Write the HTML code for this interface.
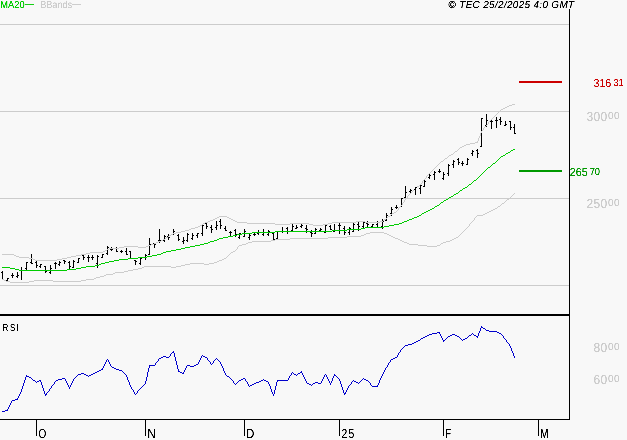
<!DOCTYPE html>
<html lang="en"><head><meta charset="utf-8"><title>Chart</title>
<style>
html,body{margin:0;padding:0;background:#f8f8f8;}
body{width:627px;height:440px;overflow:hidden;}
svg{display:block;font-family:"Liberation Sans",Arial,sans-serif;}
</style></head><body>
<svg width="627" height="440" viewBox="0 0 627 440">
<rect x="0" y="0" width="627" height="440" fill="#f8f8f8"/>
<rect x="0" y="24" width="569" height="1" fill="#cccccc"/>
<rect x="0" y="111" width="569" height="1" fill="#cccccc"/>
<rect x="0" y="198" width="569" height="1" fill="#cccccc"/>
<rect x="0" y="285" width="569" height="1" fill="#cccccc"/>
<path d="M2 271h1v8h-1zM7 278h1v3h-1zM12 273h1v5h-1zM17 272h1v6h-1zM21 267h1v13h-1zM26 262h1v8h-1zM31 254h1v10h-1zM36 261h1v7h-1zM40 264h1v4h-1zM45 266h1v7h-1zM50 265h1v9h-1zM55 262h1v7h-1zM59 261h1v5h-1zM64 260h1v4h-1zM69 261h1v8h-1zM73 260h1v8h-1zM78 258h1v5h-1zM83 255h1v5h-1zM88 255h1v7h-1zM92 255h1v5h-1zM97 255h1v13h-1zM102 254h1v4h-1zM107 246h1v9h-1zM111 247h1v4h-1zM116 247h1v5h-1zM121 250h1v3h-1zM126 248h1v7h-1zM130 251h1v7h-1zM135 260h1v5h-1zM140 258h1v7h-1zM145 254h1v6h-1zM149 238h1v17h-1zM154 243h1v5h-1zM159 229h1v14h-1zM164 235h1v7h-1zM168 234h1v6h-1zM173 229h1v6h-1zM178 234h1v7h-1zM183 237h1v7h-1zM187 233h1v9h-1zM192 233h1v7h-1zM197 233h1v5h-1zM202 225h1v11h-1zM206 222h1v7h-1zM211 225h1v8h-1zM216 221h1v9h-1zM220 219h1v10h-1zM225 226h1v5h-1zM230 231h1v5h-1zM235 229h1v8h-1zM239 233h1v6h-1zM244 229h1v8h-1zM249 234h1v6h-1zM254 233h1v3h-1zM258 230h1v5h-1zM263 229h1v7h-1zM268 230h1v6h-1zM273 233h1v7h-1zM277 232h1v7h-1zM282 227h1v6h-1zM287 227h1v7h-1zM292 224h1v7h-1zM296 225h1v4h-1zM301 224h1v4h-1zM306 225h1v8h-1zM311 230h1v7h-1zM315 228h1v6h-1zM320 228h1v3h-1zM325 225h1v8h-1zM330 225h1v5h-1zM334 224h1v8h-1zM339 223h1v11h-1zM344 226h1v9h-1zM349 227h1v8h-1zM353 223h1v9h-1zM358 222h1v9h-1zM363 222h1v6h-1zM367 221h1v6h-1zM372 224h1v3h-1zM377 221h1v6h-1zM382 219h1v10h-1zM386 213h1v8h-1zM391 207h1v9h-1zM396 205h1v4h-1zM401 198h1v9h-1zM405 186h1v12h-1zM410 189h1v5h-1zM415 187h1v8h-1zM420 185h1v9h-1zM424 180h1v7h-1zM429 174h1v5h-1zM434 171h1v9h-1zM439 169h1v4h-1zM443 172h1v8h-1zM448 164h1v12h-1zM453 160h1v8h-1zM458 158h1v7h-1zM462 161h1v5h-1zM467 158h1v7h-1zM472 150h1v6h-1zM477 149h1v9h-1zM481 118h1v29h-1zM486 114h1v13h-1zM491 120h1v9h-1zM496 117h1v11h-1zM500 117h1v8h-1zM505 121h1v5h-1zM510 121h1v9h-1zM514 124h1v10h-1z" fill="#000" shape-rendering="crispEdges"/>
<path d="M512 104h3v1h-3zM509 105h3v1h-3zM507 106h2v1h-2zM505 107h2v1h-2zM503 108h2v1h-2zM501 109h2v1h-2zM500 110h1v1h-1zM499 111h1v1h-1zM498 112h1v1h-1zM497 113h1v1h-1zM496 114h1v1h-1zM495 115h1v1h-1zM494 116h1v1h-1zM493 117h1v1h-1zM492 118h1v1h-1zM491 119h1v1h-1zM490 120h1v1h-1zM489 121h1v1h-1zM488 122h1v1h-1zM488 123h1v1h-1zM487 124h1v1h-1zM486 125h1v1h-1zM485 126h1v1h-1zM484 127h1v1h-1zM483 128h1v1h-1zM483 129h1v1h-1zM482 130h1v1h-1zM481 131h1v1h-1zM481 132h1v1h-1zM480 133h1v1h-1zM480 134h1v1h-1zM480 135h1v1h-1zM479 136h1v1h-1zM479 137h1v1h-1zM478 138h1v1h-1zM478 139h1v1h-1zM478 140h1v1h-1zM477 141h1v1h-1zM475 142h3v1h-3zM470 143h5v1h-5zM466 144h4v1h-4zM464 145h2v1h-2zM462 146h2v1h-2zM460 147h2v1h-2zM459 148h1v1h-1zM458 149h1v1h-1zM457 150h1v1h-1zM455 151h2v1h-2zM454 152h1v1h-1zM453 153h1v1h-1zM451 154h2v1h-2zM449 155h2v1h-2zM448 156h1v1h-1zM447 157h1v1h-1zM445 158h2v1h-2zM444 159h1v1h-1zM443 160h1v1h-1zM441 161h2v1h-2zM440 162h1v1h-1zM439 163h1v1h-1zM438 164h1v1h-1zM437 165h1v1h-1zM436 166h1v1h-1zM435 167h1v1h-1zM434 168h1v1h-1zM433 169h1v1h-1zM432 170h1v1h-1zM431 171h1v1h-1zM430 172h1v1h-1zM429 173h1v1h-1zM428 174h1v1h-1zM427 175h1v1h-1zM426 176h1v1h-1zM426 177h1v1h-1zM425 178h1v1h-1zM424 179h1v1h-1zM423 180h1v1h-1zM422 181h1v1h-1zM422 182h1v1h-1zM421 183h1v1h-1zM420 184h1v1h-1zM419 185h1v1h-1zM417 186h2v1h-2zM416 187h1v1h-1zM415 188h1v1h-1zM414 189h1v1h-1zM413 190h1v1h-1zM412 191h1v1h-1zM411 192h1v1h-1zM410 193h1v1h-1zM409 194h1v1h-1zM408 195h1v1h-1zM407 196h1v1h-1zM407 197h1v1h-1zM406 198h1v1h-1zM405 199h1v1h-1zM404 200h1v1h-1zM404 201h1v1h-1zM403 202h1v1h-1zM402 203h1v1h-1zM402 204h1v1h-1zM401 205h1v1h-1zM400 206h1v1h-1zM399 207h1v1h-1zM398 208h1v1h-1zM398 209h1v1h-1zM397 210h1v1h-1zM396 211h1v1h-1zM394 212h2v1h-2zM392 213h2v1h-2zM391 214h1v1h-1zM390 215h1v1h-1zM219 216h8v1h-8zM388 216h2v1h-2zM217 217h2v1h-2zM227 217h2v1h-2zM387 217h1v1h-1zM215 218h2v1h-2zM229 218h2v1h-2zM386 218h1v1h-1zM213 219h2v1h-2zM231 219h2v1h-2zM384 219h2v1h-2zM210 220h3v1h-3zM233 220h2v1h-2zM383 220h1v1h-1zM208 221h2v1h-2zM235 221h2v1h-2zM356 221h9v1h-9zM380 221h3v1h-3zM205 222h3v1h-3zM237 222h10v1h-10zM332 222h24v1h-24zM365 222h15v1h-15zM203 223h2v1h-2zM247 223h28v1h-28zM290 223h19v1h-19zM328 223h4v1h-4zM202 224h1v1h-1zM275 224h15v1h-15zM309 224h4v1h-4zM323 224h5v1h-5zM200 225h2v1h-2zM313 225h10v1h-10zM198 226h2v1h-2zM195 227h3v1h-3zM191 228h4v1h-4zM189 229h2v1h-2zM185 230h4v1h-4zM181 231h4v1h-4zM176 232h5v1h-5zM173 233h3v1h-3zM171 234h2v1h-2zM169 235h2v1h-2zM168 236h1v1h-1zM166 237h2v1h-2zM165 238h1v1h-1zM163 239h2v1h-2zM161 240h2v1h-2zM158 241h3v1h-3zM156 242h2v1h-2zM153 243h3v1h-3zM151 244h2v1h-2zM148 245h3v1h-3zM124 246h14v1h-14zM146 246h2v1h-2zM119 247h5v1h-5zM138 247h8v1h-8zM109 248h10v1h-10zM107 249h2v1h-2zM105 250h2v1h-2zM103 251h2v1h-2zM90 252h13v1h-13zM86 253h4v1h-4zM2 254h12v1h-12zM81 254h5v1h-5zM14 255h2v1h-2zM76 255h5v1h-5zM16 256h3v1h-3zM71 256h5v1h-5zM19 257h10v1h-10zM67 257h4v1h-4zM29 258h4v1h-4zM62 258h5v1h-5zM33 259h2v1h-2zM57 259h5v1h-5zM35 260h22v1h-22z" fill="#cccccc" shape-rendering="crispEdges"/>
<path d="M514 193h1v1h-1zM513 194h1v1h-1zM512 195h1v1h-1zM511 196h1v1h-1zM510 197h1v1h-1zM509 198h1v1h-1zM507 199h2v1h-2zM506 200h1v1h-1zM505 201h1v1h-1zM504 202h1v1h-1zM502 203h2v1h-2zM501 204h1v1h-1zM500 205h1v1h-1zM498 206h2v1h-2zM497 207h1v1h-1zM495 208h2v1h-2zM493 209h2v1h-2zM491 210h2v1h-2zM489 211h2v1h-2zM487 212h2v1h-2zM485 213h2v1h-2zM483 214h2v1h-2zM477 215h6v1h-6zM476 216h1v1h-1zM475 217h1v1h-1zM474 218h1v1h-1zM474 219h1v1h-1zM473 220h1v1h-1zM472 221h1v1h-1zM471 222h1v1h-1zM470 223h1v1h-1zM469 224h1v1h-1zM469 225h1v1h-1zM468 226h1v1h-1zM467 227h1v1h-1zM466 228h1v1h-1zM465 229h1v1h-1zM464 230h1v1h-1zM463 231h1v1h-1zM370 232h14v1h-14zM462 232h1v1h-1zM366 233h4v1h-4zM384 233h3v1h-3zM461 233h1v1h-1zM364 234h2v1h-2zM387 234h2v1h-2zM460 234h1v1h-1zM361 235h3v1h-3zM389 235h2v1h-2zM459 235h1v1h-1zM347 236h14v1h-14zM391 236h2v1h-2zM458 236h1v1h-1zM328 237h19v1h-19zM393 237h2v1h-2zM456 237h2v1h-2zM290 238h38v1h-38zM395 238h3v1h-3zM454 238h2v1h-2zM275 239h15v1h-15zM398 239h2v1h-2zM452 239h2v1h-2zM271 240h4v1h-4zM400 240h2v1h-2zM450 240h2v1h-2zM252 241h19v1h-19zM402 241h2v1h-2zM446 241h4v1h-4zM248 242h4v1h-4zM404 242h3v1h-3zM443 242h3v1h-3zM246 243h2v1h-2zM407 243h2v1h-2zM441 243h2v1h-2zM242 244h4v1h-4zM409 244h9v1h-9zM440 244h1v1h-1zM239 245h3v1h-3zM418 245h9v1h-9zM437 245h3v1h-3zM238 246h1v1h-1zM427 246h10v1h-10zM237 247h1v1h-1zM237 248h1v1h-1zM236 249h1v1h-1zM235 250h1v1h-1zM233 251h2v1h-2zM231 252h2v1h-2zM230 253h1v1h-1zM229 254h1v1h-1zM228 255h1v1h-1zM227 256h1v1h-1zM226 257h1v1h-1zM224 258h2v1h-2zM222 259h2v1h-2zM219 260h3v1h-3zM217 261h2v1h-2zM214 262h3v1h-3zM190 263h14v1h-14zM209 263h5v1h-5zM185 264h5v1h-5zM204 264h5v1h-5zM181 265h4v1h-4zM144 266h27v1h-27zM176 266h5v1h-5zM142 267h2v1h-2zM171 267h5v1h-5zM138 268h4v1h-4zM133 269h5v1h-5zM128 270h5v1h-5zM124 271h4v1h-4zM115 272h9v1h-9zM113 273h2v1h-2zM106 274h7v1h-7zM104 275h2v1h-2zM100 276h4v1h-4zM96 277h4v1h-4zM94 278h2v1h-2zM2 279h2v1h-2zM86 279h8v1h-8zM4 280h2v1h-2zM34 280h19v1h-19zM81 280h5v1h-5zM6 281h4v1h-4zM29 281h5v1h-5zM53 281h28v1h-28zM10 282h19v1h-19z" fill="#cccccc" shape-rendering="crispEdges"/>
<path d="M1 272h1v1h-1zM6 280h1v1h-1zM8 278h1v1h-1zM11 275h1v1h-1zM13 275h1v1h-1zM16 276h1v1h-1zM18 275h1v1h-1zM20 270h1v1h-1zM22 270h1v1h-1zM25 268h1v1h-1zM27 262h1v1h-1zM30 262h1v1h-1zM32 263h1v1h-1zM35 262h1v1h-1zM37 265h1v1h-1zM39 266h1v1h-1zM41 264h1v1h-1zM44 266h1v1h-1zM46 271h1v1h-1zM49 272h1v1h-1zM51 268h1v1h-1zM54 263h1v1h-1zM56 263h1v1h-1zM58 264h1v1h-1zM60 262h1v1h-1zM63 260h1v1h-1zM65 261h1v1h-1zM68 262h1v1h-1zM70 266h1v1h-1zM72 267h1v1h-1zM74 261h1v1h-1zM77 262h1v1h-1zM79 258h1v1h-1zM82 255h1v1h-1zM84 257h1v1h-1zM87 257h1v1h-1zM89 257h1v1h-1zM91 257h1v1h-1zM93 257h1v1h-1zM96 263h1v1h-1zM98 256h1v1h-1zM101 257h1v1h-1zM103 254h1v1h-1zM106 253h1v1h-1zM108 247h1v1h-1zM110 249h1v1h-1zM112 249h1v1h-1zM117 251h1v1h-1zM120 251h1v1h-1zM122 251h1v1h-1zM125 251h1v1h-1zM127 254h1v1h-1zM129 251h1v1h-1zM131 258h1v1h-1zM134 260h1v1h-1zM136 261h1v1h-1zM139 263h1v1h-1zM141 258h1v1h-1zM144 257h1v1h-1zM146 255h1v1h-1zM148 254h1v1h-1zM150 244h1v1h-1zM153 243h1v1h-1zM155 244h1v1h-1zM158 240h1v1h-1zM160 240h1v1h-1zM163 240h1v1h-1zM165 236h1v1h-1zM167 236h1v1h-1zM169 237h1v1h-1zM174 231h1v1h-1zM177 235h1v1h-1zM179 239h1v1h-1zM182 241h1v1h-1zM184 240h1v1h-1zM186 240h1v1h-1zM188 234h1v1h-1zM191 238h1v1h-1zM193 235h1v1h-1zM196 235h1v1h-1zM198 233h1v1h-1zM201 233h1v1h-1zM203 225h1v1h-1zM205 223h1v1h-1zM207 226h1v1h-1zM210 227h1v1h-1zM212 229h1v1h-1zM215 227h1v1h-1zM217 225h1v1h-1zM219 221h1v1h-1zM221 225h1v1h-1zM224 228h1v1h-1zM226 230h1v1h-1zM229 232h1v1h-1zM231 232h1v1h-1zM234 230h1v1h-1zM236 234h1v1h-1zM238 237h1v1h-1zM240 233h1v1h-1zM243 236h1v1h-1zM245 231h1v1h-1zM248 237h1v1h-1zM250 235h1v1h-1zM253 234h1v1h-1zM255 234h1v1h-1zM257 233h1v1h-1zM259 232h1v1h-1zM262 234h1v1h-1zM264 232h1v1h-1zM267 234h1v1h-1zM269 231h1v1h-1zM272 233h1v1h-1zM274 239h1v1h-1zM276 238h1v1h-1zM278 231h1v1h-1zM281 231h1v1h-1zM283 231h1v1h-1zM286 228h1v1h-1zM288 231h1v1h-1zM291 230h1v1h-1zM293 226h1v1h-1zM295 228h1v1h-1zM297 227h1v1h-1zM300 226h1v1h-1zM302 225h1v1h-1zM305 228h1v1h-1zM307 229h1v1h-1zM310 232h1v1h-1zM312 233h1v1h-1zM314 233h1v1h-1zM316 229h1v1h-1zM319 230h1v1h-1zM321 229h1v1h-1zM324 232h1v1h-1zM326 225h1v1h-1zM329 226h1v1h-1zM331 229h1v1h-1zM333 231h1v1h-1zM335 230h1v1h-1zM338 225h1v1h-1zM340 225h1v1h-1zM343 228h1v1h-1zM345 232h1v1h-1zM348 232h1v1h-1zM350 228h1v1h-1zM352 231h1v1h-1zM354 224h1v1h-1zM357 224h1v1h-1zM359 226h1v1h-1zM362 226h1v1h-1zM364 222h1v1h-1zM366 223h1v1h-1zM368 224h1v1h-1zM371 226h1v1h-1zM373 224h1v1h-1zM376 224h1v1h-1zM381 226h1v1h-1zM383 221h1v1h-1zM385 220h1v1h-1zM387 215h1v1h-1zM390 213h1v1h-1zM392 209h1v1h-1zM395 207h1v1h-1zM397 207h1v1h-1zM402 198h1v1h-1zM404 197h1v1h-1zM406 192h1v1h-1zM409 191h1v1h-1zM411 190h1v1h-1zM414 189h1v1h-1zM416 187h1v1h-1zM419 188h1v1h-1zM421 185h1v1h-1zM423 186h1v1h-1zM425 181h1v1h-1zM428 177h1v1h-1zM430 175h1v1h-1zM433 174h1v1h-1zM435 172h1v1h-1zM438 171h1v1h-1zM440 171h1v1h-1zM442 178h1v1h-1zM444 174h1v1h-1zM447 173h1v1h-1zM449 165h1v1h-1zM452 164h1v1h-1zM454 161h1v1h-1zM457 159h1v1h-1zM459 162h1v1h-1zM461 163h1v1h-1zM463 163h1v1h-1zM466 164h1v1h-1zM468 159h1v1h-1zM471 153h1v1h-1zM473 151h1v1h-1zM476 150h1v1h-1zM478 153h1v1h-1zM480 146h1v1h-1zM482 118h1v1h-1zM485 125h1v1h-1zM487 120h1v1h-1zM490 121h1v1h-1zM492 121h1v1h-1zM495 120h1v1h-1zM497 120h1v1h-1zM499 119h1v1h-1zM501 121h1v1h-1zM504 125h1v1h-1zM506 124h1v1h-1zM509 121h1v1h-1zM511 127h1v1h-1zM513 127h1v1h-1zM515 133h1v1h-1zM415 188h1v1h-1z" fill="#000" shape-rendering="crispEdges"/>
<path d="M513 149h2v1h-2zM511 150h2v1h-2zM510 151h1v1h-1zM508 152h2v1h-2zM506 153h2v1h-2zM505 154h1v1h-1zM503 155h2v1h-2zM501 156h2v1h-2zM500 157h1v1h-1zM499 158h1v1h-1zM498 159h1v1h-1zM497 160h1v1h-1zM496 161h1v1h-1zM495 162h1v1h-1zM493 163h2v1h-2zM492 164h1v1h-1zM491 165h1v1h-1zM490 166h1v1h-1zM488 167h2v1h-2zM487 168h1v1h-1zM486 169h1v1h-1zM485 170h1v1h-1zM484 171h1v1h-1zM483 172h1v1h-1zM482 173h1v1h-1zM481 174h1v1h-1zM480 175h1v1h-1zM479 176h1v1h-1zM478 177h1v1h-1zM477 178h1v1h-1zM476 179h1v1h-1zM474 180h2v1h-2zM473 181h1v1h-1zM472 182h1v1h-1zM471 183h1v1h-1zM469 184h2v1h-2zM468 185h1v1h-1zM467 186h1v1h-1zM465 187h2v1h-2zM463 188h2v1h-2zM462 189h1v1h-1zM460 190h2v1h-2zM459 191h1v1h-1zM458 192h1v1h-1zM456 193h2v1h-2zM454 194h2v1h-2zM453 195h1v1h-1zM451 196h2v1h-2zM449 197h2v1h-2zM448 198h1v1h-1zM446 199h2v1h-2zM444 200h2v1h-2zM443 201h1v1h-1zM441 202h2v1h-2zM440 203h1v1h-1zM439 204h1v1h-1zM437 205h2v1h-2zM435 206h2v1h-2zM434 207h1v1h-1zM432 208h2v1h-2zM430 209h2v1h-2zM428 210h2v1h-2zM426 211h2v1h-2zM424 212h2v1h-2zM422 213h2v1h-2zM421 214h1v1h-1zM419 215h2v1h-2zM417 216h2v1h-2zM414 217h3v1h-3zM412 218h2v1h-2zM409 219h3v1h-3zM407 220h2v1h-2zM404 221h3v1h-3zM402 222h2v1h-2zM399 223h3v1h-3zM394 224h5v1h-5zM389 225h5v1h-5zM384 226h5v1h-5zM365 227h19v1h-19zM361 228h4v1h-4zM347 229h14v1h-14zM332 230h15v1h-15zM275 231h57v1h-57zM252 232h23v1h-23zM242 233h10v1h-10zM237 234h5v1h-5zM233 235h4v1h-4zM228 236h5v1h-5zM223 237h5v1h-5zM219 238h4v1h-4zM217 239h2v1h-2zM214 240h3v1h-3zM210 241h4v1h-4zM208 242h2v1h-2zM204 243h4v1h-4zM200 244h4v1h-4zM195 245h5v1h-5zM190 246h5v1h-5zM185 247h5v1h-5zM181 248h4v1h-4zM176 249h5v1h-5zM171 250h5v1h-5zM166 251h5v1h-5zM163 252h3v1h-3zM161 253h2v1h-2zM157 254h4v1h-4zM152 255h5v1h-5zM147 256h5v1h-5zM138 257h9v1h-9zM128 258h10v1h-10zM119 259h9v1h-9zM114 260h5v1h-5zM109 261h5v1h-5zM105 262h4v1h-4zM101 263h4v1h-4zM99 264h2v1h-2zM95 265h4v1h-4zM86 266h9v1h-9zM2 267h8v1h-8zM81 267h5v1h-5zM10 268h5v1h-5zM76 268h5v1h-5zM15 269h4v1h-4zM67 269h9v1h-9zM19 270h48v1h-48z" fill="#00cc00" shape-rendering="crispEdges"/>
<path d="M481 326h1v1h-1zM481 327h2v1h-2zM480 328h1v1h-1zM483 328h2v1h-2zM480 329h1v1h-1zM485 329h1v1h-1zM480 330h1v1h-1zM486 330h3v1h-3zM479 331h1v1h-1zM489 331h8v1h-8zM437 332h3v1h-3zM479 332h1v1h-1zM497 332h2v1h-2zM432 333h5v1h-5zM439 333h1v1h-1zM472 333h1v1h-1zM478 333h1v1h-1zM499 333h2v1h-2zM429 334h3v1h-3zM440 334h1v1h-1zM452 334h3v1h-3zM471 334h1v1h-1zM473 334h1v1h-1zM478 334h1v1h-1zM501 334h1v1h-1zM427 335h2v1h-2zM440 335h1v1h-1zM450 335h2v1h-2zM455 335h2v1h-2zM469 335h2v1h-2zM474 335h2v1h-2zM478 335h1v1h-1zM502 335h1v1h-1zM425 336h2v1h-2zM441 336h1v1h-1zM448 336h2v1h-2zM457 336h2v1h-2zM468 336h1v1h-1zM476 336h2v1h-2zM503 336h1v1h-1zM423 337h2v1h-2zM441 337h1v1h-1zM447 337h1v1h-1zM459 337h1v1h-1zM467 337h1v1h-1zM477 337h1v1h-1zM503 337h1v1h-1zM421 338h2v1h-2zM442 338h1v1h-1zM446 338h1v1h-1zM460 338h1v1h-1zM465 338h2v1h-2zM504 338h1v1h-1zM420 339h1v1h-1zM442 339h1v1h-1zM445 339h1v1h-1zM461 339h1v1h-1zM463 339h2v1h-2zM505 339h1v1h-1zM418 340h2v1h-2zM443 340h2v1h-2zM462 340h1v1h-1zM506 340h1v1h-1zM416 341h2v1h-2zM443 341h1v1h-1zM506 341h1v1h-1zM414 342h2v1h-2zM507 342h1v1h-1zM412 343h2v1h-2zM508 343h1v1h-1zM408 344h4v1h-4zM509 344h1v1h-1zM405 345h3v1h-3zM509 345h1v1h-1zM404 346h1v1h-1zM510 346h1v1h-1zM403 347h1v1h-1zM510 347h1v1h-1zM402 348h1v1h-1zM511 348h1v1h-1zM401 349h1v1h-1zM511 349h1v1h-1zM400 350h1v1h-1zM511 350h1v1h-1zM173 351h1v1h-1zM400 351h1v1h-1zM512 351h1v1h-1zM172 352h2v1h-2zM399 352h1v1h-1zM512 352h1v1h-1zM171 353h1v1h-1zM174 353h1v1h-1zM398 353h1v1h-1zM513 353h1v1h-1zM170 354h1v1h-1zM174 354h1v1h-1zM398 354h1v1h-1zM513 354h1v1h-1zM170 355h1v1h-1zM174 355h1v1h-1zM202 355h1v1h-1zM397 355h1v1h-1zM513 355h1v1h-1zM163 356h3v1h-3zM169 356h1v1h-1zM174 356h1v1h-1zM201 356h1v1h-1zM203 356h2v1h-2zM397 356h1v1h-1zM514 356h1v1h-1zM161 357h2v1h-2zM166 357h3v1h-3zM175 357h1v1h-1zM201 357h1v1h-1zM205 357h2v1h-2zM395 357h2v1h-2zM514 357h1v1h-1zM159 358h2v1h-2zM175 358h1v1h-1zM200 358h1v1h-1zM207 358h1v1h-1zM216 358h1v1h-1zM393 358h2v1h-2zM107 359h1v1h-1zM158 359h1v1h-1zM175 359h1v1h-1zM200 359h1v1h-1zM207 359h1v1h-1zM215 359h1v1h-1zM217 359h1v1h-1zM391 359h2v1h-2zM106 360h1v1h-1zM108 360h1v1h-1zM158 360h1v1h-1zM175 360h1v1h-1zM199 360h1v1h-1zM208 360h1v1h-1zM214 360h1v1h-1zM218 360h1v1h-1zM390 360h1v1h-1zM106 361h1v1h-1zM108 361h1v1h-1zM157 361h1v1h-1zM176 361h1v1h-1zM199 361h1v1h-1zM209 361h1v1h-1zM213 361h1v1h-1zM219 361h1v1h-1zM390 361h1v1h-1zM105 362h1v1h-1zM109 362h1v1h-1zM156 362h1v1h-1zM176 362h1v1h-1zM198 362h1v1h-1zM210 362h1v1h-1zM213 362h1v1h-1zM220 362h1v1h-1zM389 362h1v1h-1zM105 363h1v1h-1zM109 363h1v1h-1zM155 363h1v1h-1zM176 363h1v1h-1zM198 363h1v1h-1zM210 363h1v1h-1zM212 363h1v1h-1zM220 363h1v1h-1zM388 363h1v1h-1zM104 364h1v1h-1zM110 364h1v1h-1zM155 364h1v1h-1zM176 364h1v1h-1zM196 364h2v1h-2zM211 364h1v1h-1zM221 364h1v1h-1zM388 364h1v1h-1zM104 365h1v1h-1zM110 365h1v1h-1zM149 365h6v1h-6zM177 365h1v1h-1zM187 365h3v1h-3zM194 365h2v1h-2zM221 365h1v1h-1zM387 365h1v1h-1zM103 366h1v1h-1zM111 366h1v1h-1zM149 366h1v1h-1zM177 366h1v1h-1zM186 366h1v1h-1zM190 366h4v1h-4zM222 366h1v1h-1zM387 366h1v1h-1zM103 367h1v1h-1zM112 367h2v1h-2zM149 367h1v1h-1zM177 367h1v1h-1zM186 367h1v1h-1zM222 367h1v1h-1zM386 367h1v1h-1zM102 368h1v1h-1zM114 368h2v1h-2zM148 368h1v1h-1zM177 368h1v1h-1zM185 368h1v1h-1zM223 368h1v1h-1zM385 368h1v1h-1zM101 369h2v1h-2zM116 369h3v1h-3zM148 369h1v1h-1zM178 369h1v1h-1zM185 369h1v1h-1zM223 369h1v1h-1zM385 369h1v1h-1zM99 370h2v1h-2zM119 370h3v1h-3zM148 370h1v1h-1zM178 370h1v1h-1zM184 370h1v1h-1zM223 370h1v1h-1zM384 370h1v1h-1zM97 371h2v1h-2zM122 371h1v1h-1zM148 371h1v1h-1zM178 371h2v1h-2zM184 371h1v1h-1zM224 371h1v1h-1zM301 371h1v1h-1zM384 371h1v1h-1zM95 372h2v1h-2zM123 372h1v1h-1zM147 372h1v1h-1zM180 372h2v1h-2zM183 372h1v1h-1zM224 372h1v1h-1zM292 372h1v1h-1zM300 372h2v1h-2zM383 372h1v1h-1zM81 373h3v1h-3zM93 373h2v1h-2zM124 373h1v1h-1zM147 373h1v1h-1zM182 373h2v1h-2zM225 373h1v1h-1zM291 373h1v1h-1zM293 373h1v1h-1zM298 373h2v1h-2zM302 373h1v1h-1zM383 373h1v1h-1zM78 374h3v1h-3zM84 374h2v1h-2zM91 374h2v1h-2zM125 374h1v1h-1zM147 374h1v1h-1zM225 374h1v1h-1zM291 374h1v1h-1zM294 374h2v1h-2zM297 374h1v1h-1zM302 374h1v1h-1zM325 374h1v1h-1zM334 374h1v1h-1zM382 374h1v1h-1zM26 375h1v1h-1zM77 375h1v1h-1zM86 375h2v1h-2zM89 375h2v1h-2zM126 375h1v1h-1zM147 375h1v1h-1zM226 375h1v1h-1zM290 375h1v1h-1zM296 375h1v1h-1zM303 375h1v1h-1zM324 375h1v1h-1zM326 375h1v1h-1zM334 375h2v1h-2zM382 375h1v1h-1zM26 376h3v1h-3zM76 376h1v1h-1zM88 376h1v1h-1zM126 376h1v1h-1zM147 376h1v1h-1zM227 376h2v1h-2zM289 376h1v1h-1zM303 376h1v1h-1zM324 376h1v1h-1zM326 376h1v1h-1zM333 376h1v1h-1zM336 376h1v1h-1zM381 376h1v1h-1zM25 377h1v1h-1zM29 377h2v1h-2zM75 377h1v1h-1zM127 377h1v1h-1zM146 377h1v1h-1zM229 377h1v1h-1zM289 377h1v1h-1zM304 377h1v1h-1zM323 377h1v1h-1zM327 377h1v1h-1zM333 377h1v1h-1zM337 377h1v1h-1zM381 377h1v1h-1zM25 378h1v1h-1zM31 378h1v1h-1zM62 378h3v1h-3zM74 378h1v1h-1zM127 378h1v1h-1zM146 378h1v1h-1zM230 378h1v1h-1zM243 378h2v1h-2zM288 378h1v1h-1zM304 378h1v1h-1zM323 378h1v1h-1zM327 378h1v1h-1zM332 378h1v1h-1zM338 378h1v1h-1zM363 378h1v1h-1zM380 378h1v1h-1zM25 379h1v1h-1zM32 379h1v1h-1zM58 379h4v1h-4zM65 379h1v1h-1zM73 379h1v1h-1zM127 379h1v1h-1zM146 379h1v1h-1zM231 379h1v1h-1zM241 379h2v1h-2zM245 379h1v1h-1zM263 379h1v1h-1zM288 379h1v1h-1zM305 379h1v1h-1zM322 379h1v1h-1zM328 379h1v1h-1zM332 379h1v1h-1zM339 379h1v1h-1zM362 379h1v1h-1zM364 379h2v1h-2zM380 379h1v1h-1zM24 380h1v1h-1zM33 380h2v1h-2zM39 380h2v1h-2zM56 380h2v1h-2zM65 380h1v1h-1zM73 380h1v1h-1zM128 380h1v1h-1zM146 380h1v1h-1zM232 380h1v1h-1zM239 380h2v1h-2zM245 380h1v1h-1zM261 380h2v1h-2zM264 380h2v1h-2zM277 380h11v1h-11zM305 380h1v1h-1zM322 380h1v1h-1zM328 380h1v1h-1zM332 380h1v1h-1zM339 380h1v1h-1zM353 380h1v1h-1zM361 380h1v1h-1zM366 380h2v1h-2zM379 380h1v1h-1zM24 381h1v1h-1zM35 381h1v1h-1zM37 381h2v1h-2zM40 381h1v1h-1zM55 381h1v1h-1zM66 381h1v1h-1zM72 381h1v1h-1zM128 381h1v1h-1zM145 381h1v1h-1zM233 381h1v1h-1zM238 381h1v1h-1zM246 381h1v1h-1zM259 381h2v1h-2zM266 381h2v1h-2zM277 381h1v1h-1zM306 381h1v1h-1zM321 381h1v1h-1zM329 381h1v1h-1zM331 381h1v1h-1zM340 381h1v1h-1zM352 381h1v1h-1zM354 381h2v1h-2zM360 381h1v1h-1zM368 381h1v1h-1zM379 381h1v1h-1zM24 382h1v1h-1zM36 382h1v1h-1zM41 382h1v1h-1zM54 382h1v1h-1zM66 382h1v1h-1zM72 382h1v1h-1zM129 382h1v1h-1zM145 382h1v1h-1zM233 382h1v1h-1zM237 382h1v1h-1zM247 382h1v1h-1zM256 382h3v1h-3zM268 382h1v1h-1zM276 382h1v1h-1zM306 382h1v1h-1zM315 382h3v1h-3zM321 382h1v1h-1zM329 382h1v1h-1zM331 382h1v1h-1zM340 382h1v1h-1zM351 382h1v1h-1zM356 382h2v1h-2zM359 382h1v1h-1zM369 382h1v1h-1zM379 382h1v1h-1zM23 383h1v1h-1zM41 383h1v1h-1zM54 383h1v1h-1zM67 383h1v1h-1zM71 383h1v1h-1zM129 383h1v1h-1zM145 383h1v1h-1zM234 383h1v1h-1zM236 383h1v1h-1zM247 383h1v1h-1zM254 383h2v1h-2zM268 383h1v1h-1zM276 383h1v1h-1zM307 383h2v1h-2zM313 383h2v1h-2zM318 383h3v1h-3zM330 383h1v1h-1zM340 383h1v1h-1zM351 383h1v1h-1zM358 383h1v1h-1zM370 383h1v1h-1zM378 383h1v1h-1zM23 384h1v1h-1zM41 384h1v1h-1zM53 384h1v1h-1zM67 384h1v1h-1zM71 384h1v1h-1zM129 384h1v1h-1zM144 384h1v1h-1zM235 384h1v1h-1zM248 384h1v1h-1zM252 384h2v1h-2zM269 384h1v1h-1zM276 384h1v1h-1zM309 384h2v1h-2zM312 384h1v1h-1zM330 384h1v1h-1zM341 384h1v1h-1zM350 384h1v1h-1zM370 384h1v1h-1zM378 384h1v1h-1zM23 385h1v1h-1zM42 385h1v1h-1zM52 385h1v1h-1zM68 385h1v1h-1zM70 385h1v1h-1zM130 385h1v1h-1zM143 385h1v1h-1zM248 385h1v1h-1zM250 385h2v1h-2zM269 385h1v1h-1zM276 385h1v1h-1zM311 385h1v1h-1zM341 385h1v1h-1zM349 385h1v1h-1zM371 385h1v1h-1zM377 385h1v1h-1zM22 386h1v1h-1zM42 386h1v1h-1zM51 386h1v1h-1zM68 386h1v1h-1zM70 386h1v1h-1zM130 386h1v1h-1zM142 386h1v1h-1zM249 386h1v1h-1zM270 386h1v1h-1zM275 386h1v1h-1zM341 386h1v1h-1zM348 386h1v1h-1zM372 386h6v1h-6zM22 387h1v1h-1zM42 387h1v1h-1zM51 387h1v1h-1zM69 387h1v1h-1zM131 387h1v1h-1zM141 387h1v1h-1zM270 387h1v1h-1zM275 387h1v1h-1zM342 387h1v1h-1zM348 387h1v1h-1zM22 388h1v1h-1zM43 388h1v1h-1zM50 388h1v1h-1zM69 388h1v1h-1zM131 388h1v1h-1zM140 388h1v1h-1zM270 388h1v1h-1zM275 388h1v1h-1zM342 388h1v1h-1zM347 388h1v1h-1zM21 389h1v1h-1zM43 389h1v1h-1zM49 389h1v1h-1zM132 389h1v1h-1zM139 389h1v1h-1zM271 389h1v1h-1zM275 389h1v1h-1zM342 389h1v1h-1zM347 389h1v1h-1zM21 390h1v1h-1zM43 390h1v1h-1zM49 390h1v1h-1zM133 390h1v1h-1zM138 390h1v1h-1zM271 390h1v1h-1zM274 390h1v1h-1zM343 390h1v1h-1zM346 390h1v1h-1zM21 391h1v1h-1zM44 391h1v1h-1zM48 391h1v1h-1zM133 391h1v1h-1zM137 391h1v1h-1zM271 391h1v1h-1zM274 391h1v1h-1zM343 391h1v1h-1zM346 391h1v1h-1zM20 392h1v1h-1zM44 392h1v1h-1zM47 392h1v1h-1zM134 392h1v1h-1zM137 392h1v1h-1zM272 392h1v1h-1zM274 392h1v1h-1zM343 392h1v1h-1zM345 392h1v1h-1zM20 393h1v1h-1zM44 393h1v1h-1zM46 393h1v1h-1zM134 393h1v1h-1zM136 393h1v1h-1zM272 393h1v1h-1zM274 393h1v1h-1zM344 393h2v1h-2zM19 394h1v1h-1zM45 394h2v1h-2zM135 394h1v1h-1zM273 394h1v1h-1zM344 394h1v1h-1zM19 395h1v1h-1zM45 395h1v1h-1zM273 395h1v1h-1zM18 396h1v1h-1zM18 397h1v1h-1zM17 398h1v1h-1zM15 399h3v1h-3zM12 400h3v1h-3zM11 401h1v1h-1zM11 402h1v1h-1zM10 403h1v1h-1zM10 404h1v1h-1zM9 405h1v1h-1zM9 406h1v1h-1zM8 407h1v1h-1zM8 408h1v1h-1zM7 409h1v1h-1zM5 410h3v1h-3zM2 411h3v1h-3z" fill="#0000cc" shape-rendering="crispEdges"/>
<rect x="0" y="314" width="570" height="2" fill="#000"/>
<rect x="569" y="9" width="1" height="411" fill="#000"/>
<rect x="0" y="419" width="570" height="1" fill="#000"/>
<rect x="36" y="419" width="1" height="17" fill="#000"/>
<rect x="145" y="419" width="1" height="17" fill="#000"/>
<rect x="244" y="419" width="1" height="17" fill="#000"/>
<rect x="339" y="419" width="1" height="17" fill="#000"/>
<rect x="443" y="419" width="1" height="17" fill="#000"/>
<rect x="538" y="419" width="1" height="17" fill="#000"/>
<rect x="519" y="81" width="43" height="2" fill="#cc0000"/>
<rect x="519" y="170" width="43" height="2" fill="#009900"/>
<defs><filter id="th" x="0" y="0" width="627" height="440" filterUnits="userSpaceOnUse" color-interpolation-filters="sRGB"><feComponentTransfer><feFuncA type="linear" slope="2.2" intercept="-0.4"/></feComponentTransfer></filter></defs>
<g text-rendering="geometricPrecision" filter="url(#th)">
<text transform="translate(0.2 8) scale(1 1.091)" font-size="9.33px" fill="#00cc00" >MA20</text>
<text x="25" y="7" font-size="9px" fill="#00cc00">—</text>
<text transform="translate(40.2 8) scale(1 1.091)" font-size="9.33px" fill="#cccccc" letter-spacing="-0.15" >BBands</text>
<text x="72" y="7" font-size="9px" fill="#cccccc">—</text>
<text transform="translate(448.6 8) scale(1 1.017)" font-size="10px" fill="#000"><tspan stroke="#000" stroke-width="0.15">©</tspan><tspan font-style="italic" letter-spacing="0.3" dx="0.2"> TEC 25/2/2025 4:0 GMT</tspan></text>
<text transform="translate(593.5 87) scale(1 1.09)" font-size="10.67px" fill="#cc0000" >316</text>
<text transform="translate(613.6 86) scale(1 1.091)" font-size="9.33px" fill="#cc0000" letter-spacing="-0.3" >31</text>
<text transform="translate(569.8 176) scale(1 1.09)" font-size="10.67px" fill="#009900" >265</text>
<text transform="translate(589.8 175) scale(1 1.091)" font-size="9.33px" fill="#009900" letter-spacing="-0.3" >70</text>
<text transform="translate(586.5 121) scale(1 1.09)" font-size="12px" fill="#cccccc" letter-spacing="0.33" >300</text>
<text transform="translate(607.9 119) scale(1 1.017)" font-size="10px" fill="#cccccc" letter-spacing="0.44" >00</text>
<text transform="translate(586.5 208) scale(1 1.09)" font-size="12px" fill="#cccccc" letter-spacing="0.33" >250</text>
<text transform="translate(607.9 206) scale(1 1.017)" font-size="10px" fill="#cccccc" letter-spacing="0.44" >00</text>
<text transform="translate(593.4 352) scale(1 1.09)" font-size="12px" fill="#cccccc" letter-spacing="0.33" >80</text>
<text transform="translate(607.9 350) scale(1 1.017)" font-size="10px" fill="#cccccc" letter-spacing="0.44" >00</text>
<text transform="translate(593.4 384) scale(1 1.09)" font-size="12px" fill="#cccccc" letter-spacing="0.33" >60</text>
<text transform="translate(607.9 382) scale(1 1.017)" font-size="10px" fill="#cccccc" letter-spacing="0.44" >00</text>
<text transform="translate(0 331) scale(0.8 1.017)" font-size="10px" fill="#000" x="3.09 12.56 20.5" >RSI</text>
<text transform="translate(38.6 438) scale(0.83 1.09)" font-size="12px" fill="#000" >O</text>
<text transform="translate(147.2 438) scale(1 1.09)" font-size="12px" fill="#000" >N</text>
<text transform="translate(246.2 438) scale(0.93 1.09)" font-size="12px" fill="#000" >D</text>
<text transform="translate(341.6 438) scale(0.86 1.09)" font-size="12px" fill="#000" letter-spacing="1.47" >25</text>
<text transform="translate(445.35 438) scale(0.8 1.09)" font-size="12px" fill="#000" >F</text>
<text transform="translate(540.3 438) scale(0.82 1.09)" font-size="12px" fill="#000" >M</text>
</g>
</svg>
</body></html>
